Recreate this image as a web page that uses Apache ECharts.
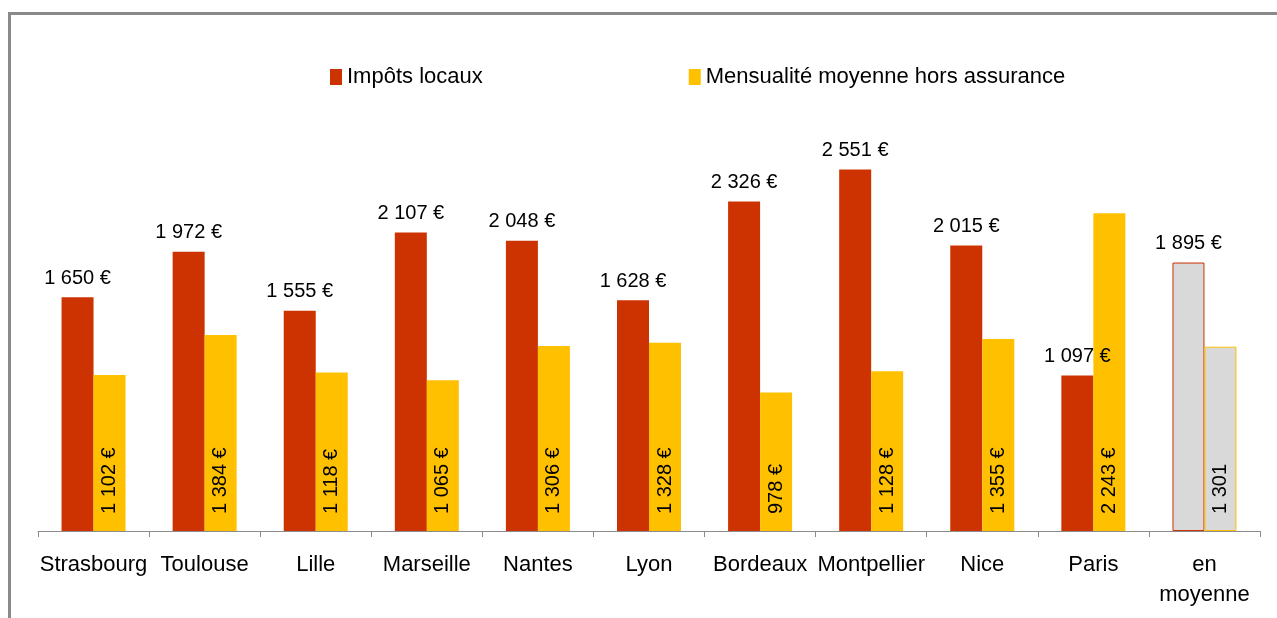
<!DOCTYPE html>
<html>
<head>
<meta charset="utf-8">
<script src="https://cdn.jsdelivr.net/npm/echarts@6/dist/echarts.min.js"></script>
<style>
html,body{margin:0;padding:0;background:#fff;}
#chart{width:1277px;height:618px;}
</style>
</head>
<body>
<div id="chart"></div>
<script>
const categories = ['Strasbourg','Toulouse','Lille','Marseille','Nantes','Lyon','Bordeaux','Montpellier','Nice','Paris','en\nmoyenne'];
const impotsLocaux = [1650,1972,1555,2107,2048,1628,2326,2551,2015,1097,1895];
const mensualite = [1102,1384,1118,1065,1306,1328,978,1128,1355,2243,1301];
const seriesNames = ['Impôts locaux','Mensualité moyenne hors assurance'];

const RED = '#CC3300', YELLOW = '#FFC000', GREY = '#D9D9D9';
const FONT = '"Liberation Sans", Arial, sans-serif';

function fmt(v){
  const s = String(v);
  return s.length > 3 ? s.slice(0, s.length-3) + ' ' + s.slice(-3) : s;
}
const lastIdx = categories.length - 1;

const redData = impotsLocaux.map((v,i) => i === lastIdx
  ? {value:v, itemStyle:{color:GREY, borderColor:RED, borderWidth:1}}
  : v);
const yellowData = mensualite.map((v,i) => i === lastIdx
  ? {value:v, itemStyle:{color:GREY, borderColor:YELLOW, borderWidth:1}}
  : v);

const chart = echarts.init(document.getElementById('chart'), null, {renderer:'canvas'});
chart.setOption({
  backgroundColor:'#fff',
  animation:false,
  graphic:[{
    type:'rect', shape:{x:9.5, y:13.5, width:1400, height:800},
    style:{fill:'none', stroke:'#8a8a8a', lineWidth:3}, z:-1
  }],
  legend:{
    left:325, top:61,
    itemWidth:12, itemHeight:16, itemGap:206,
    icon:'rect',
    textStyle:{fontFamily:FONT, fontSize:22, color:'#000'},
    data:seriesNames
  },
  grid:{left:38, right:17, top:106, bottom:87},
  xAxis:{
    type:'category', data:categories, boundaryGap:true,
    axisLine:{lineStyle:{color:'#8c8c8c', width:1}},
    axisTick:{show:true, length:6, lineStyle:{color:'#8c8c8c'}},
    axisLabel:{fontFamily:FONT, fontSize:22, color:'#000', margin:19, lineHeight:30, interval:0}
  },
  yAxis:{type:'value', min:0, max:3000, show:false, splitLine:{show:false}},
  series:[
    {
      name:seriesNames[0], type:'bar', data:redData, color:RED,
      barWidth:32, barGap:'0%',
      label:{show:true, position:'top', distance:9, fontFamily:FONT, fontSize:20, color:'#000',
        formatter:p => fmt(p.value) + ' €'}
    },
    {
      name:seriesNames[1], type:'bar', data:yellowData, color:YELLOW,
      barWidth:32, barGap:'0%',
      label:{show:true, position:'insideBottom', distance:17, rotate:90, align:'left', verticalAlign:'middle',
        fontFamily:FONT, fontSize:20, color:'#000',
        formatter:p => p.dataIndex === lastIdx ? fmt(p.value) : fmt(p.value) + ' €'}
    }
  ]
});
</script>
</body>
</html>
